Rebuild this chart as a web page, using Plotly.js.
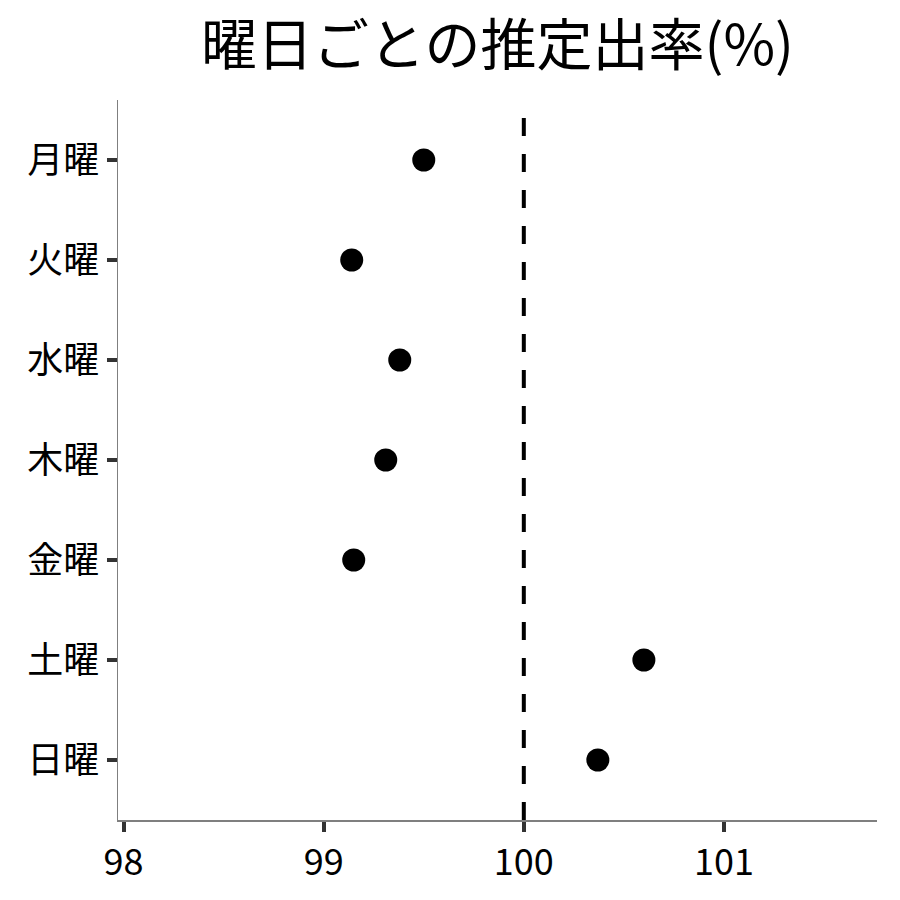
<!DOCTYPE html>
<html>
<head>
<meta charset="utf-8">
<script src="https://cdn.plot.ly/plotly-3.0.1.min.js"></script>
<style>
  html, body { margin: 0; padding: 0; background: #fff; }
  #grafico { width: 900px; height: 900px; }
</style>
</head>
<body>
<div id="grafico"></div>
<script>
// 曜日ごとの推定出率
var days = ['月曜', '火曜', '水曜', '木曜', '金曜', '土曜', '日曜'];
var rates = [99.50, 99.14, 99.38, 99.31, 99.15, 100.60, 100.37];
var refValue = 100;
var xTicks = [98, 99, 100, 101];

var fontName = '"Noto Sans CJK JP", "Noto Sans", sans-serif';

var points = {
  x: rates,
  y: days,
  type: 'scatter',
  mode: 'markers',
  marker: { color: '#000000', size: 23 },
  hoverinfo: 'x+y'
};

var layout = {
  width: 900,
  height: 900,
  paper_bgcolor: '#ffffff',
  plot_bgcolor: '#ffffff',
  showlegend: false,
  margin: { l: 118, r: 23, t: 100, b: 80 },
  font: { family: fontName, color: '#000000' },
  title: {
    text: '曜日ごとの推定出率(%)',
    font: { family: fontName, size: 56, color: '#000000' },
    xref: 'paper', x: 0.5, xanchor: 'center',
    yref: 'container', y: 0.95, yanchor: 'middle'
  },
  xaxis: {
    range: [97.972, 101.765],
    tickvals: xTicks,
    ticktext: xTicks.map(String),
    showgrid: false,
    zeroline: false,
    showline: true,
    linecolor: '#7f7f7f',
    linewidth: 1.5,
    ticks: 'outside',
    ticklen: 10,
    tickwidth: 4,
    tickcolor: '#333333',
    tickfont: { family: fontName, size: 36, color: '#000000' }
  },
  yaxis: {
    type: 'category',
    categoryorder: 'array',
    categoryarray: days,
    range: [6.6, -0.6],
    showgrid: false,
    zeroline: false,
    showline: true,
    linecolor: '#7f7f7f',
    linewidth: 1.5,
    ticks: 'outside',
    ticklen: 10,
    tickwidth: 4,
    tickcolor: '#333333',
    tickfont: { family: fontName, size: 36, color: '#000000' }
  },
  shapes: [{
    type: 'line',
    xref: 'x', x0: refValue, x1: refValue,
    yref: 'paper', y0: 0, y1: 1,
    line: { color: '#000000', width: 4, dash: '18px,18px' }
  }]
};

Plotly.newPlot('grafico', [points], layout, { displayModeBar: false, staticPlot: true });
</script>
</body>
</html>
